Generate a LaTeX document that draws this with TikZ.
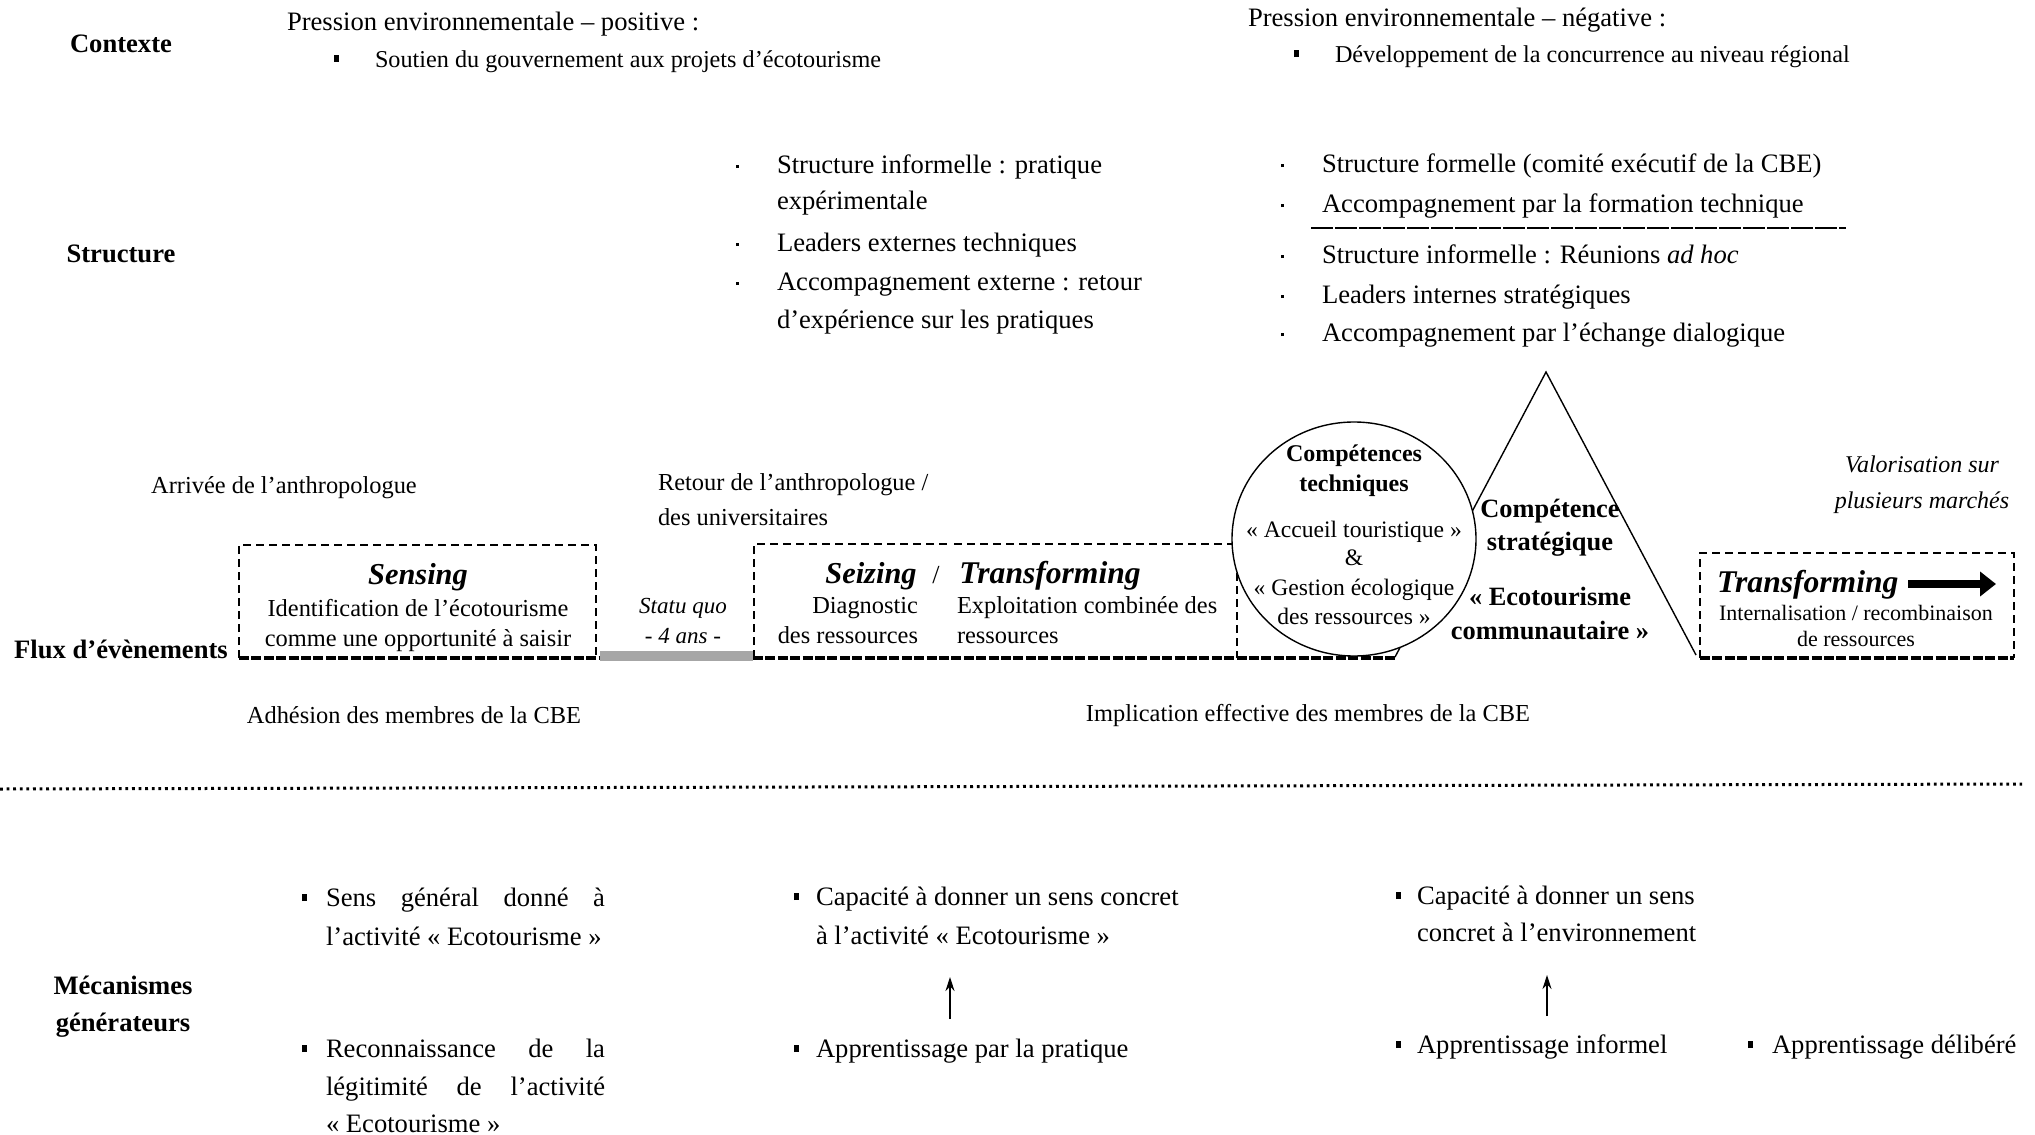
\documentclass[tikz,border=0pt]{standalone}
\usepackage{fontspec}
\setmainfont{Liberation Serif}
\usetikzlibrary{shapes.geometric,arrows.meta}
\newcommand{\sqbul}[1]{\llap{\raisebox{2.5pt}{\rule{2.6pt}{3.4pt}}\hspace{#1}}}
\newcommand{\dotbul}{\llap{\raisebox{2.5pt}{\rule{1.3pt}{1.3pt}}\hspace{19pt}}}
\begin{document}
\begin{tikzpicture}[x=0.5pt,y=-0.5pt,
  every node/.style={inner sep=0pt,outer sep=0pt},
  rowlab/.style={font=\fontsize{13.3pt}{16pt}\selectfont\bfseries,anchor=base,align=center},
  bodytxt/.style={font=\fontsize{13.3pt}{16pt}\selectfont,anchor=base west},
  evtxt/.style={font=\fontsize{12.2pt}{15pt}\selectfont,anchor=base west},
  ctxtxt/.style={font=\fontsize{12.1pt}{15pt}\selectfont,anchor=base west},
  boxtxt/.style={font=\fontsize{12.2pt}{15pt}\selectfont,anchor=base},
  headtxt/.style={font=\fontsize{15.2pt}{18pt}\selectfont\bfseries\itshape,anchor=base},
  transtxt/.style={font=\fontsize{15.8pt}{18pt}\selectfont\bfseries\itshape,anchor=base},
  smallit/.style={font=\fontsize{11.5pt}{14pt}\selectfont\itshape,anchor=base},
  elltxt/.style={font=\fontsize{11.8pt}{14pt}\selectfont,anchor=base},
  ellbold/.style={font=\fontsize{12pt}{14pt}\selectfont\bfseries,anchor=base},
  tribold/.style={font=\fontsize{13.2pt}{16pt}\selectfont\bfseries,anchor=base},
  valtxt/.style={font=\fontsize{12pt}{15pt}\selectfont\itshape,anchor=base},
  intxt/.style={font=\fontsize{11pt}{14pt}\selectfont,anchor=base},
  thindash/.style={line width=0.6pt,dash pattern=on 4pt off 2.5pt},
  thickdash/.style={line width=1.6pt,dash pattern=on 5pt off 1.2pt},
  uparrow/.style={line width=0.6pt,-{Stealth[length=7pt,width=4.5pt]}}
]
\useasboundingbox (0,0) rectangle (2035,1135);

% ---------- row labels ----------
\node[rowlab] (lctx) at (121,53) {Contexte};
\node[rowlab] (lstr) at (121,262) {Structure};
\node[rowlab] (lflux) at (121,658) {Flux d’évènements};
\node[rowlab] (lmec1) at (123,994) {Mécanismes};
\node[rowlab] (lmec2) at (123,1031) {générateurs};

% ---------- contexte ----------
\node[bodytxt] (cpos) at (287,31) {Pression environnementale – positive :};
\node[ctxtxt] (cpos1) at (375,67) {\sqbul{18pt}Soutien du gouvernement aux projets d’écotourisme};
\node[bodytxt] (cneg) at (1248,26) {Pression environnementale – négative :};
\node[ctxtxt] (cneg1) at (1335,62) {\sqbul{18pt}Développement de la concurrence au niveau régional};

% ---------- structure ----------
\node[bodytxt] (sl1) at (777,173) {\dotbul Structure informelle : pratique};
\node[bodytxt] (sl2) at (777,209) {expérimentale};
\node[bodytxt] (sl3) at (777,251) {\dotbul Leaders externes techniques};
\node[bodytxt] (sl4) at (777,290) {\dotbul Accompagnement externe : retour};
\node[bodytxt] (sl5) at (777,328) {d’expérience sur les pratiques};

\node[bodytxt] (sr1) at (1322,172) {\dotbul Structure formelle (comité exécutif de la CBE)};
\node[bodytxt] (sr2) at (1322,212) {\dotbul Accompagnement par la formation technique};
\coordinate (sepA) at (1311,228);
\coordinate (sepB) at (1846,228);
\draw[line width=0.6pt,dash pattern=on 11pt off 1pt] (sepA) -- (sepB);
\node[bodytxt] (sr3) at (1322,263) {\dotbul Structure informelle : Réunions \textit{ad hoc}};
\node[bodytxt] (sr4) at (1322,303) {\dotbul Leaders internes stratégiques};
\node[bodytxt] (sr5) at (1322,341) {\dotbul Accompagnement par l’échange dialogique};

% ---------- event labels ----------
\node[evtxt,anchor=base] (ev1) at (284,493) {Arrivée de l’anthropologue};
\node[evtxt] (ev2a) at (658,490) {Retour de l’anthropologue /};
\node[evtxt] (ev2b) at (658,525) {des universitaires};
\node[evtxt,anchor=base] (adh) at (414,723) {Adhésion des membres de la CBE};
\node[evtxt,anchor=base] (impl) at (1308,721) {Implication effective des membres de la CBE};

% ---------- flux boxes ----------
% Sensing box
\draw[thindash] (239,658) -- (239,545) -- (596,545) -- (596,658);
% Seizing / Transforming box
\draw[thindash] (754,658) -- (754,544) -- (949,544);
\draw[thindash] (954,544) -- (1237,544) -- (1237,658);
% grey statu quo bar
\fill[gray!70] (600,651) rectangle (753,661);
% bottom thick line
\draw[thickdash] (239,658) -- (600,658);
\draw[thickdash] (753,658) -- (1395,658);

% triangle (strategic competence)
\coordinate (triL) at (1395,657);
\coordinate (triT) at (1546,372);
\coordinate (triR) at (1696,655);
\draw[line width=0.7pt] (triL) -- (triT) -- (triR);

% ellipse (technical competences)
\node[draw,ellipse,fill=white,line width=0.7pt,minimum width=122pt,minimum height=117pt] (ell) at (1354,539) {};

% right Transforming box
\draw[thindash] (1700,658) -- (1700,553) -- (2014,553) -- (2014,658);
\draw[thickdash] (1700,658) -- (2014,658);

% ---------- box texts ----------
\node[headtxt] (sens) at (418,584) {Sensing};
\node[boxtxt] (sens1) at (418,616) {Identification de l’écotourisme};
\node[boxtxt] (sens2) at (418,646) {comme une opportunité à saisir};

\node[smallit] (sq1) at (683,613) {Statu quo};
\node[smallit] (sq2) at (683,643) {- 4 ans -};

\node[headtxt] (seiz) at (871,583) {Seizing};
\node[font=\fontsize{13pt}{16pt}\selectfont,anchor=base] (slash) at (936,583) {/};
\node[transtxt] (trans1) at (1050,583) {Transforming};
\node[boxtxt,anchor=base east] (diag1) at (918,613) {Diagnostic};
\node[boxtxt,anchor=base east] (diag2) at (918,643) {des ressources};
\node[boxtxt,anchor=base west] (expl1) at (957,613) {Exploitation combinée des};
\node[boxtxt,anchor=base west] (expl2) at (957,643) {ressources};

\node[ellbold] (ct1) at (1354,461) {Compétences};
\node[ellbold] (ct2) at (1354,491) {techniques};
\node[elltxt] (ct3) at (1354,537) {« Accueil touristique »};
\node[elltxt] (ct4) at (1354,565) {\&};
\node[elltxt] (ct5) at (1354,595) {« Gestion écologique};
\node[elltxt] (ct6) at (1354,624) {des ressources »};

\node[tribold] (cs1) at (1550,517) {Compétence};
\node[tribold] (cs2) at (1550,550) {stratégique};
\node[tribold] (cs3) at (1550,605) {« Ecotourisme};
\node[tribold] (cs4) at (1550,639) {communautaire »};

\node[valtxt] (val1) at (1922,472) {Valorisation sur};
\node[valtxt] (val2) at (1922,508) {plusieurs marchés};

\node[transtxt,anchor=base west] (trans2) at (1717,592) {Transforming};
\coordinate (bigA) at (1908,584);
\coordinate (bigB) at (1996,584);
\draw[line width=4pt,-{Triangle[length=8pt,width=12pt]}] (bigA) -- (bigB);
\node[intxt] (int1) at (1856,620) {Internalisation / recombinaison};
\node[intxt] (int2) at (1856,646) {de ressources};

% ---------- separator ----------
\coordinate (dotA) at (0,789);
\coordinate (dotB) at (2022,784);
\draw[line width=1.5pt,dash pattern=on 1.4pt off 1.9pt] (dotA) -- (dotB);

% ---------- mécanismes ----------
\node[bodytxt] (m1a) at (326,906) {\sqbul{9.5pt}\makebox[139.5pt][s]{Sens général donné à}};
\node[bodytxt] (m1b) at (326,945) {l’activité « Ecotourisme »};
\node[bodytxt] (m1c) at (326,1057) {\sqbul{9.5pt}\makebox[139.5pt][s]{Reconnaissance de la}};
\node[bodytxt] (m1d) at (326,1095) {\makebox[139.5pt][s]{légitimité de l’activité}};
\node[bodytxt] (m1e) at (326,1132) {« Ecotourisme »};

\node[bodytxt] (m2a) at (816,905) {\sqbul{8.5pt}Capacité à donner un sens concret};
\node[bodytxt] (m2b) at (816,944) {à l’activité « Ecotourisme »};
\node[bodytxt] (m2c) at (816,1057) {\sqbul{8.5pt}Apprentissage par la pratique};
\coordinate (ar1s) at (950,1019);
\coordinate (ar1e) at (950,977);
\draw[uparrow] (ar1s) -- (ar1e);

\node[bodytxt] (m3a) at (1417,904) {\sqbul{8pt}Capacité à donner un sens};
\node[bodytxt] (m3b) at (1417,941) {concret à l’environnement};
\node[bodytxt] (m3c) at (1417,1053) {\sqbul{8pt}Apprentissage informel};
\coordinate (ar2s) at (1547,1016);
\coordinate (ar2e) at (1547,975);
\draw[uparrow] (ar2s) -- (ar2e);

\node[bodytxt] (m4) at (1772,1053) {\sqbul{9.5pt}Apprentissage délibéré};
\end{tikzpicture}
\end{document}
